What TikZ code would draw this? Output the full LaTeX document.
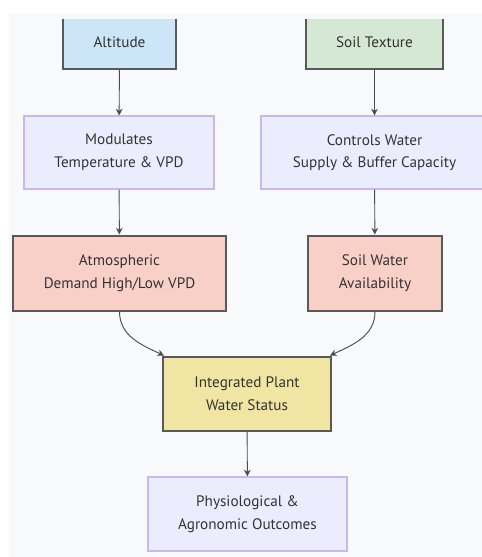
\documentclass[tikz,border=0pt]{standalone}
\usepackage{fontspec}
\setmainfont{PT Sans}
\usetikzlibrary{arrows.meta}
\definecolor{bgc}{HTML}{F8F9FA}
\definecolor{altc}{HTML}{CCE5F7}
\definecolor{soilc}{HTML}{D5E8D4}
\definecolor{lavc}{HTML}{ECECFF}
\definecolor{lavb}{HTML}{C9B8F0}
\definecolor{salc}{HTML}{F8D0C8}
\definecolor{yelc}{HTML}{F0E5A2}
\definecolor{txtc}{HTML}{333333}
\begin{document}
\begin{tikzpicture}[x=0.75pt,y=-0.75pt,font=\fontsize{11.4}{17}\selectfont,
  box/.style={draw,align=center,text=txtc,inner sep=0pt},
  dark/.style={box,draw=black!65,line width=1.5pt},
  lav/.style={box,fill=lavc,draw=lavb,line width=0.9pt},
  link/.style={draw=black!70,line width=0.7pt,-{Stealth[length=5pt,width=5pt]}}]
\useasboundingbox (0,0) rectangle (482,557);
\fill[bgc] (9,13) rectangle (482,557);

\begin{scope}
\clip (0,19) rectangle (482,557);
\node[dark,fill=altc,minimum width=84.75pt,minimum height=40.5pt] (alt) at (119.5,42) {Altitude};
\node[dark,fill=soilc,minimum width=102.75pt,minimum height=40.5pt] (soil) at (374.5,42) {Soil Texture};
\node[lav,minimum width=142.5pt,minimum height=54.75pt] (mod) at (119,152.5) {Modulates\\Temperature \& VPD};
\node[lav,minimum width=170.25pt,minimum height=54.75pt] (ctrl) at (374.5,152.5) {Controls Water\\Supply \& Buffer Capacity};
\end{scope}

\node[dark,fill=salc,minimum width=159.75pt,minimum height=56.25pt] (atm) at (119.5,273) {Atmospheric\\Demand High/Low VPD};
\node[dark,fill=salc,minimum width=100.5pt,minimum height=56.25pt] (swa) at (375,273) {Soil Water\\Availability};
\node[dark,fill=yelc,minimum width=126pt,minimum height=55.5pt] (ipw) at (247,393.5) {Integrated Plant\\Water Status};
\node[lav,minimum width=149.25pt,minimum height=55.5pt] (pao) at (247.5,514) {Physiological \&\\Agronomic Outcomes};

\draw[link] (alt) -- (mod);
\draw[link] (soil) -- (ctrl);
\draw[link] (mod) -- (atm);
\draw[link] (ctrl) -- (swa);
\draw[link] (atm.south) to[out=-90,in=155] ([xshift=1.5pt]ipw.north west);
\draw[link] (swa.south) to[out=-90,in=25] ([xshift=-1.5pt]ipw.north east);
\draw[link] (ipw) -- (pao);
\end{tikzpicture}
\end{document}
